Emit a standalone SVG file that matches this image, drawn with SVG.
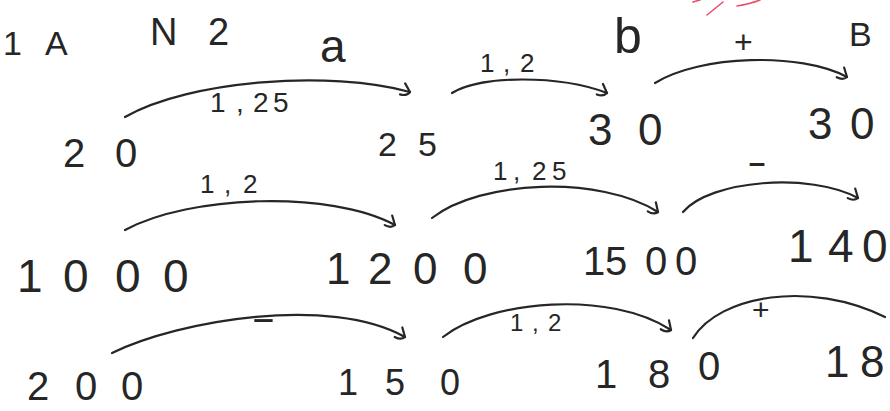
<svg xmlns="http://www.w3.org/2000/svg" width="890" height="411" viewBox="0 0 890 411">
<style>
text{font-family:"Liberation Sans","DejaVu Sans",sans-serif;fill:#262626}
.n{font-size:44px}
.l{font-size:28px}
.c{fill:none;stroke:#262626;stroke-width:2.2;stroke-linecap:round}
.r{fill:none;stroke:#e8506a;stroke-width:1.6;stroke-linecap:round}
</style>
<defs>
<marker id="ah" viewBox="-12 -10 16 20" markerWidth="16" markerHeight="20" refX="0" refY="0" orient="auto" markerUnits="userSpaceOnUse">
<path d="M-7,-7 L0,0 Q-2,5 -9,5" fill="none" stroke="#262626" stroke-width="2.2" stroke-linecap="round" stroke-linejoin="round"/>
</marker>
</defs>
<rect width="890" height="411" fill="#fff"/>
<g id="header">
<text style="font-size:34px" x="3 25 45" y="55">1 A</text>
<text style="font-size:38px" x="150 185 208" y="45">N 2</text>
</g>
<g id="marks">
<path class="r" d="M693,2 L700,0"/>
<path class="r" d="M707,15 L723,2"/>
<path class="r" d="M737,6 Q750,4 760,0"/>
</g>
<g id="row1">
<g id="n20"><text class="n" style="font-size:40px" x="63 115" y="167">20</text></g>
<g id="n25"><text class="n" style="font-size:34px" x="378 418" y="156">25</text></g>
<g id="n30a"><text class="n" x="588 638" y="145">30</text></g>
<g id="n30b"><text class="n" x="808 850" y="139">30</text></g>
<g id="la"><text style="font-size:46px" x="320" y="62">a</text></g>
<g id="lb"><text style="font-size:50px" x="614" y="53">b</text></g>
<g id="lB"><text style="font-size:34px" x="849" y="46">B</text></g>
</g>
<g id="row2">
<g id="n1000"><text class="n" style="font-size:46px" x="17 63 115 163" y="292">1000</text></g>
<g id="n1200"><text class="n" x="326 368 413 463" y="284">1200</text></g>
<g id="n1500"><text class="n" style="font-size:40px" x="583 605 645 675" y="275">1500</text></g>
<g id="n140"><text class="n" style="font-size:46px" x="788 828 862" y="262">140</text></g>
</g>
<g id="row3">
<g id="n200"><text class="n" style="font-size:40px" x="27 75 121" y="400">200</text></g>
<g id="n150"><text class="n" style="font-size:36px" x="338 385 440" y="395">150</text></g>
<g id="n180"><text class="n" style="font-size:40px" x="595 648 698" y="388 388 380">180</text></g>
<g id="n18"><text class="n" x="825 860" y="377">18</text></g>
</g>
<g id="connectors">
<path class="c" marker-end="url(#ah)" d="M125,117 C190,80 330,70 410,92"/>
<path class="c" marker-end="url(#ah)" d="M452,93 C480,75 560,75 607,93"/>
<path class="c" marker-end="url(#ah)" d="M655,83 C700,55 800,52 847,77"/>
<path class="c" marker-end="url(#ah)" d="M125,230 C190,195 330,190 395,225"/>
<path class="c" marker-end="url(#ah)" d="M432,218 C480,180 600,175 658,212"/>
<path class="c" marker-end="url(#ah)" d="M683,212 C710,180 810,172 858,198"/>
<path class="c" marker-end="url(#ah)" d="M112,353 C180,320 330,295 405,337"/>
<path class="c" marker-end="url(#ah)" d="M443,337 C490,300 610,290 671,330"/>
<path class="c" d="M693,338 C720,295 810,280 885,317"/>
</g>
<g id="labels">
<text class="l" x="210 236 253 273" y="112">1,25</text>
<text class="l" style="font-size:26px" x="480 503 520" y="72">1,2</text>
<text style="font-size:32px" x="734" y="53">+</text>
<text class="l" style="font-size:26px" x="200 224 243" y="193">1,2</text>
<text class="l" style="font-size:26px" x="493 513 532 552" y="180">1,25</text>
<text style="font-size:36px" x="747" y="174" textLength="20" lengthAdjust="spacingAndGlyphs">-</text>
<text style="font-size:36px" x="251" y="330" textLength="25" lengthAdjust="spacingAndGlyphs">-</text>
<text class="l" style="font-size:24px" x="510 532 548" y="331">1,2</text>
<text style="font-size:30px" x="752" y="320">+</text>
</g>
</svg>
